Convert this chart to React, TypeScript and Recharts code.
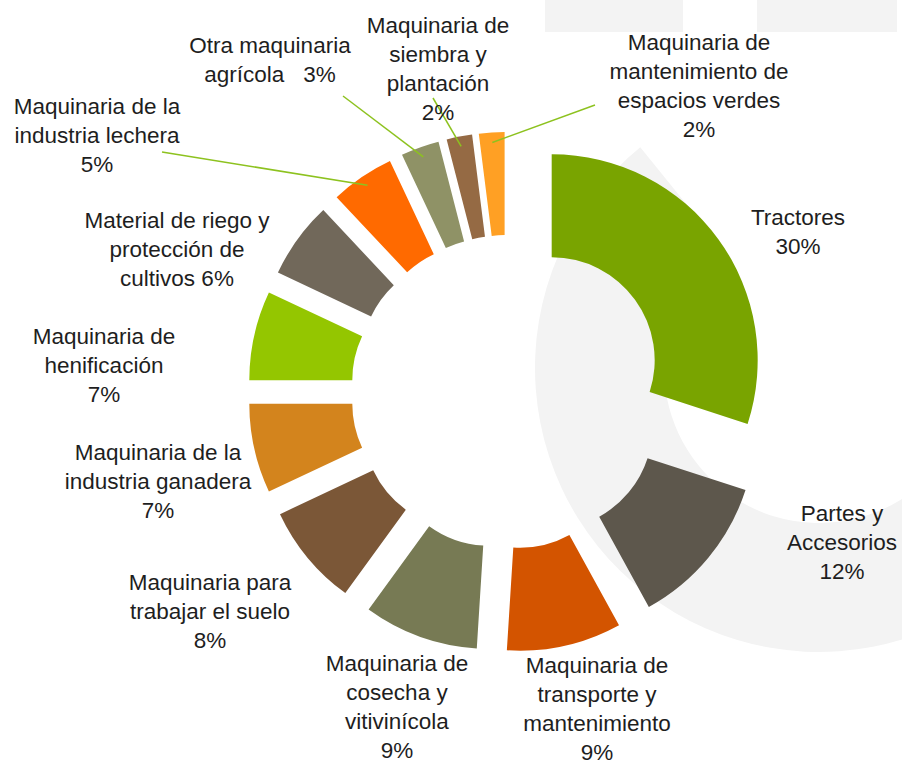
import React from 'react';
import { PieChart, Pie, Cell } from 'recharts';

// slices, clockwise from 12 o'clock
const categories = [
  'Tractores',
  'Partes y Accesorios',
  'Maquinaria de transporte y mantenimiento',
  'Maquinaria de cosecha y vitivinícola',
  'Maquinaria para trabajar el suelo',
  'Maquinaria de la industria ganadera',
  'Maquinaria de henificación',
  'Material de riego y protección de cultivos',
  'Maquinaria de la industria lechera',
  'Otra maquinaria agrícola',
  'Maquinaria de siembra y plantación',
  'Maquinaria de mantenimiento de espacios verdes',
];
const shares = [30, 12, 9, 9, 8, 7, 7, 6, 5, 3, 2, 2];

// how each label is broken over lines (percent goes after, or inline)
const labelLines = [
  ['Tractores'],
  ['Partes y', 'Accesorios'],
  ['Maquinaria de', 'transporte y', 'mantenimiento'],
  ['Maquinaria de', 'cosecha y', 'vitivinícola'],
  ['Maquinaria para', 'trabajar el suelo'],
  ['Maquinaria de la', 'industria ganadera'],
  ['Maquinaria de', 'henificación'],
  ['Material de riego y', 'protección de', 'cultivos'],
  ['Maquinaria de la', 'industria lechera'],
  ['Otra maquinaria', 'agrícola'],
  ['Maquinaria de', 'siembra y', 'plantación'],
  ['Maquinaria de', 'mantenimiento de', 'espacios verdes'],
];
const pctInline = [false, false, false, false, false, false, false, true, false, true, false, false];
const pctSep = [' ', ' ', ' ', ' ', ' ', ' ', ' ', ' ', ' ', '   ', ' ', ' '];

const COLORS = [
  '#79a400', '#5d574c', '#d35400', '#777a54', '#7b5737', '#d3841d',
  '#94c600', '#71685a', '#ff6a00', '#8f9266', '#956a44', '#ffa024',
];

// label placement (first line centre) and leader line start, page coords
const LABEL_POS: [number, number][] = [
  [798, 217], [842, 513], [597, 665], [397, 663], [210, 582], [158, 452],
  [104, 336], [177, 220], [97, 106], [270, 45], [438, 25], [699, 42],
];
const LEADER_FROM: ([number, number] | null)[] = [
  null, null, null, null, null, null, null, null,
  [162, 152], [343, 96], [433, 98], [595, 105],
];

const W = 902;
const H = 765;
const CX = 508;
const CY = 392;
const INNER = 103;
const OUTER = 206;
const EXPLODE = 54;
const LINE_H = 29;
const RAD = Math.PI / 180;

const data = categories.map((name, i) => ({ name, value: shares[i] }));
const total = shares.reduce((a, b) => a + b, 0);

// clockwise angle (from top) of each slice middle
const midAngles = shares.map((v, i) => {
  const before = shares.slice(0, i).reduce((a, b) => a + b, 0);
  return ((before + v / 2) / total) * 360;
});

const renderLabel = (k: number) => (props: any) => {
  if (props.index !== k) return null;
  const { cx, cy, midAngle, outerRadius } = props;
  const [lx, ly] = LABEL_POS[k];
  const pct = `${shares[k]}%`;
  const lines = [...labelLines[k]];
  if (pctInline[k]) lines[lines.length - 1] += pctSep[k] + pct;
  else lines.push(pct);
  const from = LEADER_FROM[k];
  const r = outerRadius - 10;
  const ex = cx + r * Math.cos(-midAngle * RAD);
  const ey = cy + r * Math.sin(-midAngle * RAD);
  return (
    <g key={`lbl-${k}`}>
      {from && <line x1={from[0]} y1={from[1]} x2={ex} y2={ey} stroke="#8dc21f" strokeWidth={1.5} />}
      <text
        x={lx}
        y={ly}
        textAnchor="middle"
        dominantBaseline="central"
        fill="#1e1e1e"
        fontSize={22.5}
        fontFamily="'Liberation Sans', Arial, sans-serif"
        style={{ whiteSpace: 'pre' }}
      >
        {lines.map((t, j) => (
          <tspan key={j} x={lx} y={ly + j * LINE_H}>
            {t}
          </tspan>
        ))}
      </text>
    </g>
  );
};

// watermark ring behind the chart
const ringPath = () => {
  const c = [819, 368];
  const r0 = 155;
  const r1 = 284;
  const a0 = 100 * RAD;
  const a1 = 321 * RAD;
  const p = (r: number, a: number) => `${c[0] + r * Math.sin(a)},${c[1] - r * Math.cos(a)}`;
  return `M${p(r1, a0)} A${r1},${r1} 0 1 1 ${p(r1, a1)} L${p(r0, a1)} A${r0},${r0} 0 1 0 ${p(r0, a0)} Z`;
};

export default function App() {
  return (
    <div style={{ position: 'absolute', left: 0, top: 0, width: W, height: H, background: '#fff' }}>
      <svg width={W} height={H} style={{ position: 'absolute', left: 0, top: 0 }}>
        <rect x={545} y={0} width={138} height={32} fill="#f3f3f3" />
        <rect x={757} y={0} width={140} height={32} fill="#f3f3f3" />
        <path d={ringPath()} fill="#f3f3f3" />
      </svg>
      <div style={{ position: 'absolute', left: 0, top: 0 }}>
        <PieChart width={W} height={H} margin={{ top: 0, right: 0, bottom: 0, left: 0 }}>
          {data.map((_, k) => {
            const a = midAngles[k] * RAD;
            return (
              <Pie
                key={k}
                data={data}
                dataKey="value"
                nameKey="name"
                cx={CX + EXPLODE * Math.sin(a)}
                cy={CY - EXPLODE * Math.cos(a)}
                innerRadius={INNER}
                outerRadius={OUTER}
                startAngle={90}
                endAngle={-270}
                stroke="none"
                label={renderLabel(k)}
                labelLine={false}
                isAnimationActive={false}
              >
                {data.map((d, i) => (
                  <Cell key={d.name} fill={i === k ? COLORS[i] : 'none'} stroke="none" />
                ))}
              </Pie>
            );
          })}
        </PieChart>
      </div>
    </div>
  );
}
